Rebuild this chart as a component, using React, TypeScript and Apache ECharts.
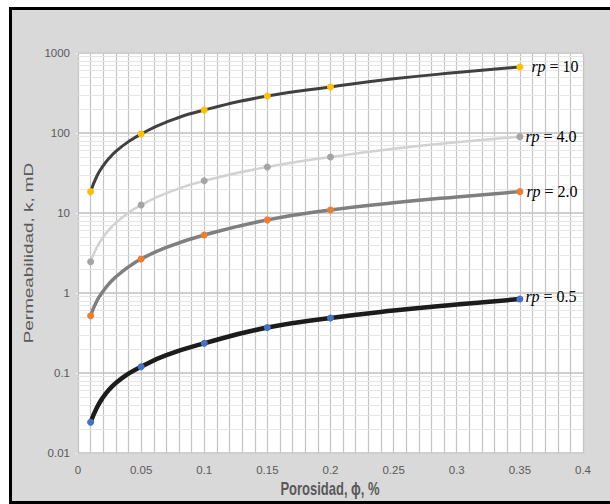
import React, { useEffect, useRef } from "react";
import * as echarts from "echarts";

// porosity values; markers only at markerPorosity
const porosity = [0.01, 0.015, 0.02, 0.025, 0.03, 0.04, 0.05, 0.07, 0.1, 0.15, 0.2, 0.25, 0.3, 0.35];
const markerPorosity = [0.01, 0.05, 0.1, 0.15, 0.2, 0.35];
const kRp10 = [18.5, 29, 39, 49, 59, 78, 97, 137, 194, 290, 376, 475, 570, 670];
const kRp4 = [2.46, 3.75, 5.0, 6.3, 7.5, 10.1, 12.6, 17.7, 25.3, 37.6, 50, 63.5, 76.5, 90];
const kRp2 = [0.52, 0.8, 1.06, 1.33, 1.59, 2.12, 2.66, 3.72, 5.3, 8.2, 10.9, 13.4, 15.9, 18.5];
const kRp05 = [0.0242, 0.037, 0.05, 0.063, 0.075, 0.098, 0.12, 0.167, 0.235, 0.37, 0.487, 0.604, 0.72, 0.84];

const rpValues = ["10", "4.0", "2.0", "0.5"];
const xTickLabels = ["0", "0.05", "0.1", "0.15", "0.2", "0.25", "0.3", "0.35", "0.4"];
const yTickLabels = ["0.01", "0.1", "1", "10", "100", "1000"];
const decades = [0.01, 0.1, 1, 10, 100];
const minorMultipliers = [2, 3, 4, 5, 6, 7, 8, 9];

const xTitle = "Porosidad, ϕ, %";
const yTitle = "Permeabilidad, k, mD";

const lineColors = ["#404040", "#d2d2d2", "#7f7f7f", "#1c1c1c"];
const markerColors = ["#ffc000", "#a5a5a5", "#ed7d31", "#4472c4"];
const lineWidths = [3, 2.5, 3.5, 4.5];
const labelDistances = [8, 2, 3, 2];
const labelOffsets = [0, 0, 0, -3];

export default function App() {
  const ref = useRef<HTMLDivElement>(null);
  useEffect(() => {
    if (!ref.current) return;
    const chart = echarts.init(ref.current, undefined, { renderer: "svg" });
    const seriesData = [kRp10, kRp4, kRp2, kRp05];
    const minorLines: any[] = [];
    decades.forEach((d) => minorMultipliers.forEach((m) => minorLines.push({ yAxis: +(d * m).toPrecision(3) })));

    const curves = seriesData.map((vals, si) => ({
      type: "line",
      name: "rp = " + rpValues[si],
      smooth: 0.5,
      symbol: "circle",
      symbolSize: 7,
      showSymbol: true,
      showAllSymbol: true,
      lineStyle: { color: lineColors[si], width: lineWidths[si], cap: "round", join: "round" },
      itemStyle: { color: markerColors[si], borderWidth: 0 },
      z: 3,
      data: vals.map((v, i) => {
        const isMarker = markerPorosity.indexOf(porosity[i]) >= 0;
        const item: any = { value: [porosity[i], v] };
        if (!isMarker) item.symbol = "none";
        if (i === vals.length - 1) {
          item.label = {
            show: true,
            position: "right",
            distance: labelDistances[si],
            offset: [0, labelOffsets[si]],
            formatter: "{i|rp} = " + rpValues[si],
            fontFamily: "Liberation Serif",
            fontSize: 16,
            color: "#000",
            rich: {
              i: { fontFamily: "Liberation Serif", fontStyle: "italic", fontSize: 16, color: "#000" },
            },
          };
        }
        return item;
      }),
    }));

    chart.setOption({
      animation: false,
      backgroundColor: "transparent",
      grid: {
        left: 78,
        top: 53,
        width: 505,
        height: 400,
        show: true,
        backgroundColor: "#ffffff",
        borderWidth: 0,
      },
      xAxis: {
        type: "value",
        min: 0,
        max: 0.4,
        interval: 0.05,
        axisLine: { show: false },
        axisTick: { show: false },
        axisLabel: {
          color: "#595959",
          fontSize: 11.5,
          fontFamily: "Liberation Sans",
          margin: 11,
          formatter: (v: number) => xTickLabels[Math.round(v / 0.05)],
        },
        splitLine: { show: true, lineStyle: { color: "#c4c4c4", width: 1.2 } },
        minorTick: { show: false, splitNumber: 5 },
        minorSplitLine: { show: true, lineStyle: { color: "#c4c4c4", width: 1.2 } },
      },
      yAxis: {
        type: "log",
        logBase: 10,
        min: 0.01,
        max: 1000,
        splitNumber: 5,
        axisLine: { show: false },
        axisTick: { show: true, length: 3, lineStyle: { color: "#eeeeee" } },
        axisLabel: {
          color: "#595959",
          fontSize: 11.5,
          fontFamily: "Liberation Sans",
          margin: 8,
          formatter: (v: number) => yTickLabels[Math.round(Math.log10(v)) + 2],
        },
        splitLine: { show: true, lineStyle: { color: "#cfcfcf", width: 2 } },
      },
      series: [
        {
          type: "line",
          name: "grid",
          data: [],
          silent: true,
          z: 1,
          markLine: {
            silent: true,
            z: 1,
            symbol: "none",
            label: { show: false },
            lineStyle: { color: "#e6e6e6", width: 1, type: "solid" },
            data: minorLines,
          },
        },
        ...curves,
      ],
      graphic: [
        {
          type: "text",
          x: 28,
          y: 253,
          rotation: Math.PI / 2,
          scaleX: 1.4,
          style: {
            text: yTitle,
            fontFamily: "Liberation Sans",
            fontSize: 13.5,
            fill: "#595959",
            textAlign: "center",
            textVerticalAlign: "middle",
          },
        },
        {
          type: "text",
          x: 330,
          y: 489,
          scaleY: 1.4,
          style: {
            text: xTitle,
            fontFamily: "Liberation Sans",
            fontWeight: "bold",
            fontSize: 13,
            fill: "#595959",
            textAlign: "center",
            textVerticalAlign: "middle",
          },
        },
      ],
    });
    return () => chart.dispose();
  }, []);

  return (
    <>
      <div
        style={{
          position: "absolute",
          left: 9,
          top: 7,
          width: 601,
          height: 497,
          boxSizing: "border-box",
          borderTop: "3.5px solid #000",
          borderLeft: "3.5px solid #000",
          borderBottom: "3.5px solid #000",
          background: "#d9d9d9",
        }}
      />
      <div ref={ref} style={{ position: "absolute", left: 0, top: 0, width: 610, height: 504 }} />
    </>
  );
}
